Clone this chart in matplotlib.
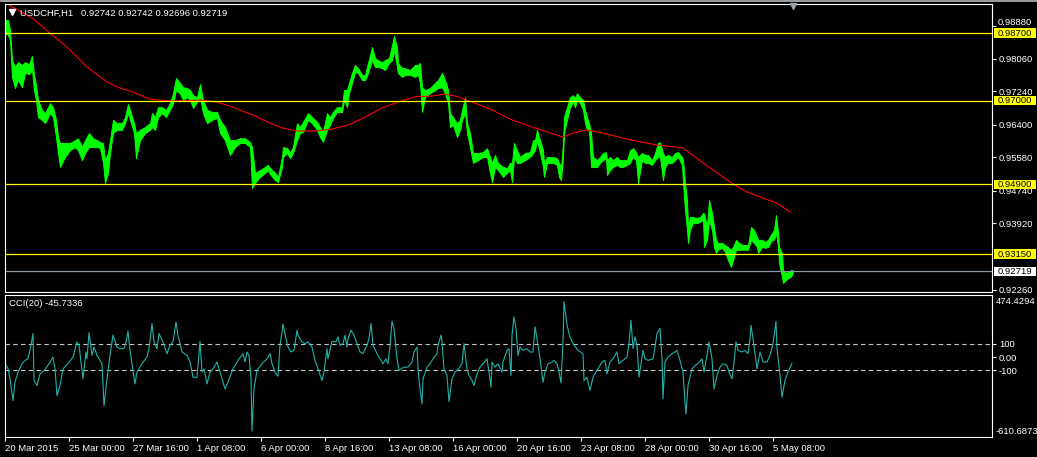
import matplotlib
matplotlib.use('Agg')
import matplotlib.pyplot as plt
import matplotlib.transforms as mtransforms
from matplotlib.patches import Rectangle
from matplotlib.lines import Line2D

plt.rcParams['font.family'] = ['Liberation Sans', 'DejaVu Sans']

# --- USDCHF H1 price band (bar index, high, low) ---
price_bar = [
    0, 3, 5, 7, 10, 13, 17, 20, 24, 27,
    29, 31, 33, 37, 40, 45, 48, 51, 53, 55,
    60, 65, 70, 73, 77, 80, 84, 88, 92, 95,
    98, 100, 103, 105, 108, 112, 117, 120, 123, 126,
    129, 131, 135, 140, 145, 147, 150, 153, 157, 161,
    165, 168, 171, 175, 178, 182, 185, 188, 192, 195,
    198, 202, 207, 212, 215, 220, 225, 230, 235, 240,
    245, 247, 250, 255, 260, 263, 265, 270, 273, 277,
    278, 282, 285, 288, 292, 295, 298, 303, 307, 312,
    315, 318, 322, 325, 328, 332, 337, 339, 342, 344,
    347, 350, 353, 357, 360, 363, 367, 370, 373, 377,
    380, 384, 387, 389, 392, 393, 397, 400, 405, 410,
    413, 415, 417, 420, 425, 430, 433, 437, 440, 443,
    445, 448, 452, 455, 457, 460, 462, 465, 468, 473,
    478, 482, 485, 487, 490, 493, 498, 502, 505, 507,
    509, 512, 515, 520, 525, 528, 530, 532, 535, 538,
    539, 542, 545, 548, 552, 554, 556, 558, 559, 562,
    565, 568, 570, 572, 575, 578, 580, 582, 584, 586,
    588, 592, 595, 598, 601, 602, 605, 608, 612, 615,
    618, 622, 625, 628, 631, 633, 637, 640, 643, 647,
    650, 653, 655, 658, 660, 663, 667, 670, 673, 677,
    678, 680, 682, 683, 685, 688, 692, 695, 698, 699,
    702, 704, 707, 709, 711, 713, 717, 720, 723, 726,
    728, 731, 734, 738, 743, 746, 749, 752, 753, 757,
    760, 763, 767, 769, 771, 773, 774, 777, 778, 781,
    783, 786, 788,
]
price_high = [
    .9903, .9903, .9878, .9802, .9785, .9797, .9790, .9797, .9792, .9812,
    .9765, .9740, .9702, .9677, .9669, .9694, .9684, .9652, .9609, .9594,
    .9594, .9594, .9601, .9606, .9584, .9601, .9619, .9606, .9601, .9596,
    .9594, .9551, .9569, .9601, .9652, .9644, .9644, .9659, .9692, .9669,
    .9644, .9619, .9627, .9634, .9644, .9669, .9659, .9684, .9684, .9677,
    .9694, .9719, .9757, .9745, .9734, .9732, .9727, .9714, .9709, .9742,
    .9702, .9677, .9672, .9672, .9652, .9634, .9601, .9601, .9606, .9606,
    .9596, .9584, .9519, .9526, .9534, .9539, .9531, .9519, .9509, .9559,
    .9584, .9581, .9571, .9584, .9644, .9634, .9647, .9669, .9659, .9647,
    .9634, .9622, .9669, .9659, .9672, .9684, .9684, .9727, .9727, .9745,
    .9770, .9790, .9782, .9765, .9765, .9795, .9835, .9807, .9802, .9797,
    .9802, .9807, .9840, .9863, .9835, .9795, .9782, .9782, .9777, .9790,
    .9790, .9795, .9734, .9727, .9732, .9745, .9752, .9770, .9752, .9727,
    .9669, .9659, .9644, .9652, .9677, .9709, .9644, .9619, .9569, .9569,
    .9571, .9581, .9559, .9544, .9564, .9544, .9534, .9531, .9544, .9544,
    .9594, .9576, .9559, .9569, .9571, .9601, .9601, .9627, .9601, .9576,
    .9544, .9559, .9559, .9559, .9556, .9544, .9534, .9594, .9659, .9684,
    .9709, .9714, .9707, .9719, .9709, .9702, .9677, .9659, .9644, .9619,
    .9559, .9551, .9559, .9569, .9571, .9551, .9559, .9551, .9559, .9551,
    .9551, .9551, .9576, .9581, .9571, .9559, .9569, .9564, .9564, .9551,
    .9569, .9594, .9596, .9569, .9559, .9564, .9559, .9569, .9571, .9559,
    .9551, .9494, .9451, .9383, .9408, .9408, .9406, .9408, .9418, .9418,
    .9383, .9451, .9418, .9383, .9351, .9343, .9343, .9338, .9333, .9326,
    .9333, .9351, .9343, .9338, .9338, .9383, .9376, .9358, .9351, .9351,
    .9346, .9351, .9368, .9376, .9413, .9368, .9333, .9318, .9275, .9268,
    .9270, .9275, .9274,
]
price_low = [
    .9870, .9865, .9853, .9760, .9732, .9752, .9734, .9770, .9767, .9777,
    .9727, .9702, .9659, .9652, .9644, .9669, .9659, .9609, .9569, .9534,
    .9559, .9576, .9584, .9576, .9551, .9569, .9584, .9584, .9584, .9581,
    .9544, .9494, .9519, .9569, .9619, .9627, .9627, .9644, .9669, .9644,
    .9619, .9556, .9601, .9619, .9627, .9634, .9627, .9659, .9669, .9659,
    .9677, .9694, .9727, .9719, .9702, .9709, .9702, .9682, .9697, .9709,
    .9669, .9644, .9652, .9657, .9619, .9601, .9564, .9584, .9594, .9594,
    .9584, .9481, .9494, .9509, .9519, .9526, .9516, .9501, .9496, .9534,
    .9559, .9569, .9556, .9569, .9601, .9619, .9622, .9652, .9644, .9627,
    .9609, .9597, .9627, .9639, .9657, .9672, .9672, .9702, .9684, .9719,
    .9745, .9772, .9770, .9752, .9752, .9770, .9802, .9785, .9785, .9782,
    .9777, .9795, .9802, .9827, .9785, .9770, .9760, .9765, .9765, .9760,
    .9765, .9745, .9672, .9709, .9719, .9727, .9732, .9734, .9719, .9694,
    .9634, .9639, .9609, .9627, .9652, .9669, .9619, .9584, .9544, .9551,
    .9559, .9559, .9519, .9496, .9534, .9526, .9509, .9519, .9526, .9496,
    .9559, .9544, .9544, .9551, .9559, .9569, .9576, .9601, .9569, .9534,
    .9509, .9544, .9544, .9544, .9539, .9509, .9501, .9559, .9619, .9652,
    .9684, .9697, .9684, .9702, .9694, .9677, .9644, .9627, .9627, .9534,
    .9534, .9534, .9544, .9551, .9556, .9514, .9526, .9534, .9539, .9534,
    .9534, .9539, .9544, .9559, .9551, .9494, .9551, .9544, .9544, .9539,
    .9551, .9559, .9559, .9501, .9534, .9544, .9544, .9551, .9559, .9539,
    .9494, .9426, .9376, .9343, .9376, .9393, .9393, .9396, .9401, .9333,
    .9351, .9401, .9376, .9333, .9318, .9326, .9331, .9321, .9300, .9283,
    .9300, .9326, .9326, .9326, .9326, .9351, .9343, .9333, .9318, .9333,
    .9331, .9333, .9351, .9351, .9368, .9333, .9293, .9258, .9243, .9250,
    .9255, .9258, .9270,
]

# red moving average
ma_bar = [2, 27, 45, 62, 82, 102, 115, 128, 145, 168, 195, 212, 228, 248, 265,
          277, 293, 310, 327, 343, 360, 377, 393, 410, 427, 440, 450, 467, 487,
          507, 530, 542, 558, 568, 582, 598, 625, 652, 678, 698, 725, 742, 758,
          772, 785]
ma_val = [.9943, .9908, .9870, .9835, .9785, .9747, .9732, .9722, .9704, .9699,
          .9702, .9697, .9684, .9664, .9644, .9632, .9624, .9624, .9629, .9639,
          .9659, .9682, .9697, .9710, .9712, .9717, .9712, .9697, .9677, .9652,
          .9632, .9622, .9609, .9619, .9627, .9619, .9602, .9589, .9582, .9544,
          .9496, .9471, .9456, .9443, .9421]

# CCI(20)
cci_bar = [
    0, 3, 5, 8, 10, 13, 17, 20, 23, 26, 28, 29, 32, 35, 40, 45, 48, 50, 52, 55,
    58, 63, 68, 72, 74, 76, 78, 81, 82, 84, 87, 89, 92, 97, 99, 102, 105, 108, 112, 115,
    119, 121, 123, 125, 128, 130, 132, 137, 142, 144, 147, 149, 152, 154, 158, 162, 165, 168, 171, 173,
    177, 182, 185, 188, 192, 195, 197, 199, 202, 205, 208, 212, 215, 218, 220, 223, 228, 233, 238, 240,
    242, 244, 246, 247, 249, 252, 257, 262, 265, 267, 270, 273, 275, 277, 278, 281, 283, 286, 289, 292,
    293, 297, 300, 303, 307, 310, 313, 317, 319, 322, 323, 327, 331, 333, 335, 338, 340, 342, 343, 346,
    349, 352, 355, 358, 362, 364, 366, 368, 372, 375, 378, 381, 383, 385, 387, 389, 392, 394, 397, 400,
    403, 407, 409, 412, 413, 415, 417, 418, 422, 425, 428, 432, 433, 436, 437, 439, 442, 444, 447, 450,
    453, 457, 459, 462, 464, 467, 469, 472, 475, 478, 482, 484, 486, 487, 490, 493, 497, 498, 502, 504,
    506, 507, 509, 511, 513, 515, 518, 522, 525, 528, 530, 532, 535, 538, 540, 543, 547, 549, 552, 554,
    556, 558, 559, 562, 565, 568, 573, 578, 579, 582, 585, 588, 592, 597, 600, 602, 605, 608, 612, 614,
    618, 622, 624, 626, 628, 630, 632, 634, 638, 640, 643, 648, 650, 652, 655, 657, 658, 660, 663, 667,
    670, 672, 675, 678, 680, 681, 683, 687, 690, 693, 697, 699, 702, 704, 707, 709, 712, 715, 718, 722,
    724, 727, 729, 731, 733, 737, 740, 743, 745, 746, 748, 752, 755, 758, 762, 765, 768, 771, 772, 775,
    777, 780, 783, 787,
]
cci_val = [
    -43, -90, -166, -333, -192, -115, -51, -25, -13, 90, 180, -179, -218, -128, -95, -38, 0, -90, -295, -218,
    -90, -51, 0, 116, 90, -38, -166, 39, -13, 187, 13, 77, 13, -51, -371, -166, 13, 167, 77, 64,
    64, 116, 198, 51, -102, -205, -115, -51, 0, 64, 257, 116, 64, 180, 116, 26, 90, 116, 269, 167,
    39, 13, -38, -154, -154, 121, -115, -90, -205, -115, -90, -38, -115, -192, -243, -192, -90, -25, 26, -38,
    39, 13, -166, -564, -243, -102, -51, -13, 26, -51, -115, -146, 90, 192, 251, 141, 77, 39, 51, 205,
    167, 116, 103, 116, 77, -25, -90, -179, -115, 64, -13, 121, 116, 154, 90, 103, 167, 77, 141, 205,
    167, 103, 39, 26, 90, 141, 257, 90, 26, -13, -51, -13, -51, 90, 274, 218, -13, -102, -84, -77,
    -77, -38, 39, 77, -90, -243, -359, -166, -77, -51, -13, 26, 90, 167, 116, -90, -141, -341, -166, -115,
    -95, -51, 103, -90, -141, -179, -218, -128, -77, -51, -13, -115, -230, -38, -77, -51, -115, -38, 51, 64,
    -141, 167, 308, 218, 13, 77, 51, 64, 39, 39, 231, 141, -13, -192, -115, -51, -38, -25, -51, -115,
    -197, 116, 423, 244, 154, 103, 51, 26, -179, -154, -256, -154, -102, -38, -25, -128, -38, -13, 39, -51,
    -25, 0, 103, 282, 64, 154, 90, -154, 51, -13, -25, -13, 77, 180, 218, -13, -320, -38, 0, 26,
    39, 51, -25, -115, -346, -435, -218, -90, -64, -51, -13, -115, 13, 116, -13, -243, -141, -77, -51, -64,
    -115, -166, -38, 116, 51, 39, 51, 26, 141, 244, 141, -90, 39, -38, -38, 13, 103, 274, 64, -141,
    -307, -179, -115, -46,
]

levels = [0.98700, 0.97000, 0.94900, 0.93150]
last_close = 0.92719
price_ticks = [0.98880, 0.98060, 0.97240, 0.96400, 0.95580, 0.94740, 0.93920, 0.92260]
cci_max, cci_min = 474.4294, -610.6873
time_pos = [0, 64, 128, 192, 256, 320, 384, 448, 512, 576, 640, 704, 768]
time_labels = ['20 Mar 2015', '25 Mar 00:00', '27 Mar 16:00', '1 Apr 08:00', '6 Apr 00:00',
               '8 Apr 16:00', '13 Apr 08:00', '16 Apr 00:00', '20 Apr 16:00', '23 Apr 08:00',
               '28 Apr 00:00', '30 Apr 16:00', '5 May 08:00']

W, H = 1037, 457
FS = 6.8
fig = plt.figure(figsize=(W / 100, H / 100), dpi=100, facecolor='black')


def px_box(x0, y0, x1, y1):
    return [x0 / W, 1 - y1 / H, (x1 - x0) / W, (y1 - y0) / H]


ax1 = fig.add_axes(px_box(5, 4, 992, 292))
ax2 = fig.add_axes(px_box(5, 295, 992, 437))

for ax in (ax1, ax2):
    ax.set_facecolor('black')
    for s in ax.spines.values():
        s.set_color('white')
        s.set_linewidth(0.8)
    ax.set_xlim(0, 987)
    ax.yaxis.tick_right()
    ax.tick_params(axis='y', colors='white', labelsize=FS, length=3, width=0.8, pad=2)

# main price panel
ax1.fill_between(price_bar, price_low, price_high, color='#00ff00', lw=0.7)
ax1.plot(ma_bar, ma_val, color='#ff0000', lw=0.8)
for lvl in levels:
    ax1.axhline(lvl, color='#ffff00', lw=0.9)
ax1.axhline(last_close, color='#8a96a0', lw=0.9)
ax1.set_xticks([])
ax1.set_yticks(price_ticks)
# the top tick label sits just above the 0.98700 box, so it is placed by hand
ax1.set_yticklabels([''] + [f'{t:.5f}' for t in price_ticks[1:]])
fig.text(998 / W, 1 - 22.5 / H, f'{price_ticks[0]:.5f}', color='white', fontsize=FS,
         va='center')

# level labels on the price scale (drawn over the tick labels)
tr1 = mtransforms.blended_transform_factory(fig.transFigure, ax1.transData)
half = 0.00118
for lvl, fc in [(l, '#ffff00') for l in levels] + [(last_close, 'white')]:
    ax1.add_patch(Rectangle((994 / W, lvl - half), 42 / W, 2 * half, transform=tr1,
                            facecolor=fc, edgecolor='none', clip_on=False, zorder=5))
    ax1.text(998 / W, lvl, f'{lvl:.5f}', transform=tr1, color='black', fontsize=FS,
             va='center', ha='left', clip_on=False, zorder=6)
ax1.set_ylim(0.9220, 0.9943)
ax1.set_xlim(0, 987)

# CCI panel
ax2.axhline(100, color='#c8c8c8', lw=0.8, ls=(0, (4, 3)))
ax2.axhline(-100, color='#c8c8c8', lw=0.8, ls=(0, (4, 3)))
ax2.plot(cci_bar, cci_val, color='#20b2aa', lw=0.8)
ax2.set_ylim(cci_min, cci_max)
ax2.set_yticks([100, 0, -100])
ax2.set_yticklabels(['100', '0.00', '-100'])
ax2.set_xticks(time_pos)
ax2.set_xticklabels(time_labels, ha='left')
ax2.tick_params(axis='x', colors='white', labelsize=FS, length=3, width=0.8, pad=2)

fig.text(996 / W, 1 - 302 / H, f'{cci_max:.4f}', color='white', fontsize=FS, va='center')
fig.text(996 / W, 1 - 432 / H, f'{cci_min:.4f}', color='white', fontsize=FS, va='center')

# headers
fig.text(20 / W, 1 - 13 / H, 'USDCHF,H1   0.92742 0.92742 0.92696 0.92719',
         color='white', fontsize=FS, va='center')
fig.text(9 / W, 1 - 304 / H, 'CCI(20) -45.7336', color='white', fontsize=FS, va='center')
fig.add_artist(Line2D([12 / W], [1 - 12 / H], marker='v', color='white', markersize=4,
                      transform=fig.transFigure))
fig.add_artist(Line2D([793 / W], [1 - 6 / H], marker='v', color='#9aa2aa', markersize=5,
                      transform=fig.transFigure))
fig.patches.append(Rectangle((0, 1 - 2 / H), 1, 2 / H, transform=fig.transFigure,
                             facecolor='#9a9a9a', edgecolor='none'))

fig.savefig('out.png', dpi=100, facecolor='black')
